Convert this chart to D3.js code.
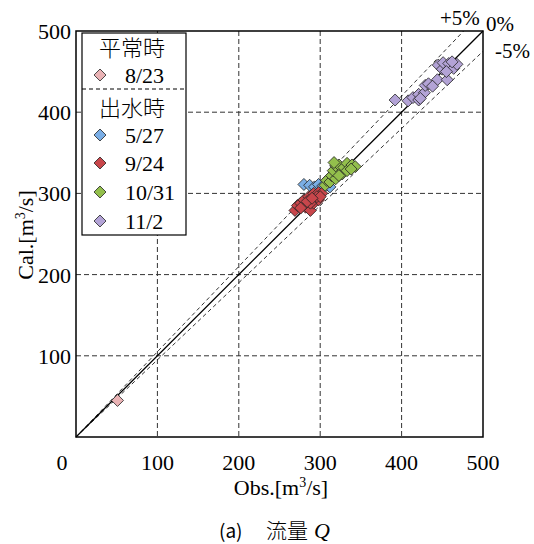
<!DOCTYPE html>
<html>
<head>
<meta charset="utf-8">
<script src="https://cdn.jsdelivr.net/npm/d3@7"></script>
<style>
  body { margin: 0; background: #fff; }
  .serif { font-family: 'Liberation Serif', 'DejaVu Serif', serif; }
</style>
</head>
<body>
<svg id="chart" width="534" height="544"></svg>
<script>
// observed vs calculated discharge [m3/s]
var obs823 = [51];
var cal823 = [45];

var obs527 = [280, 287, 293, 298, 303, 308, 312];
var cal527 = [311, 310, 308, 311, 309, 310, 308];

var obs924 = [269, 272, 276, 280, 286, 292, 298, 302, 282, 288, 292, 298, 296, 288, 276, 284, 300, 290];
var cal924 = [279, 285, 288, 292, 296, 300, 301, 300, 283, 279, 288, 292, 296, 288, 282, 290, 296, 294];

var obs1031 = [306, 308, 312, 314, 319, 316, 319, 323, 327, 323, 329, 333, 333, 339, 343, 338, 317];
var cal1031 = [310, 316, 314, 322, 318, 328, 334, 335, 324, 322, 332, 337, 328, 335, 333, 330, 338];

var obs112 = [392, 408, 414, 421, 421, 428, 429, 433, 444, 456, 445, 450, 451, 458, 464, 468, 423, 438, 455, 462];
var cal112 = [415, 414, 418, 415, 422, 424, 433, 435, 440, 440, 458, 453, 461, 460, 454, 459, 417, 432, 450, 462];

var ticks = [100, 200, 300, 400, 500];
var bands = [1.05, 1.0, 0.95];   // +5%, 0%, -5%

var series = [
  {label: '8/23',  color: '#eab3b5', x: obs823,  y: cal823},
  {label: '5/27',  color: '#7aaee6', x: obs527,  y: cal527},
  {label: '9/24',  color: '#c8464b', x: obs924,  y: cal924},
  {label: '10/31', color: '#93bf4c', x: obs1031, y: cal1031},
  {label: '11/2',  color: '#b3a3d6', x: obs112,  y: cal112}
];

var JP = "'Noto Sans CJK JP', sans-serif";

var svg = d3.select('#chart');
var m = {left: 76, top: 31, right: 483, bottom: 437};

var x = d3.scaleLinear().domain([0, 500]).range([m.left, m.right]);
var y = d3.scaleLinear().domain([0, 500]).range([m.bottom, m.top]);

var diamond = function(r) {
  return 'M0,' + (-r) + 'L' + r + ',0L0,' + r + 'L' + (-r) + ',0Z';
};

// grid
var grid = svg.append('g');
grid.selectAll('.gx').data(ticks.slice(0, 4)).enter().append('line')
  .attr('x1', d => x(d)).attr('x2', d => x(d))
  .attr('y1', m.top).attr('y2', m.bottom)
  .attr('stroke', '#333').attr('stroke-width', 1).attr('stroke-dasharray', '5,3');
grid.selectAll('.gy').data(ticks.slice(0, 4)).enter().append('line')
  .attr('y1', d => y(d)).attr('y2', d => y(d))
  .attr('x1', m.left).attr('x2', m.right)
  .attr('stroke', '#333').attr('stroke-width', 1).attr('stroke-dasharray', '5,3');

// +-5% and 1:1 lines
svg.selectAll('.band').data(bands).enter().append('line')
  .attr('x1', x(0)).attr('y1', y(0))
  .attr('x2', d => x(Math.min(500, 500 / d)))
  .attr('y2', d => y(Math.min(500, 500 / d) * d))
  .attr('stroke', '#000')
  .attr('stroke-width', d => d === 1 ? 1.3 : 0.8)
  .attr('stroke-dasharray', d => d === 1 ? null : '4,3');

// points
series.forEach(function(s) {
  svg.append('g').selectAll('path').data(s.x).enter().append('path')
    .attr('d', diamond(6))
    .attr('transform', (d, i) => 'translate(' + x(d) + ',' + y(s.y[i]) + ')')
    .attr('fill', s.color).attr('stroke', '#222').attr('stroke-width', 0.8);
});

// frame
svg.append('rect')
  .attr('x', m.left).attr('y', m.top)
  .attr('width', m.right - m.left).attr('height', m.bottom - m.top)
  .attr('fill', 'none').attr('stroke', '#000').attr('stroke-width', 1.5);

// tick labels
svg.selectAll('.ty').data(ticks).enter().append('text').attr('class', 'serif')
  .attr('x', m.left - 5).attr('y', d => y(d) + 8)
  .attr('text-anchor', 'end').attr('font-size', 22)
  .text(d => d);
svg.selectAll('.tx').data(ticks).enter().append('text').attr('class', 'serif')
  .attr('x', d => x(d)).attr('y', 470)
  .attr('text-anchor', 'middle').attr('font-size', 22)
  .text(d => d);
svg.append('text').attr('class', 'serif').attr('x', 62).attr('y', 470)
  .attr('text-anchor', 'middle').attr('font-size', 22).text('0');

// axis titles
var xt = svg.append('text').attr('class', 'serif').attr('x', 281).attr('y', 495)
  .attr('text-anchor', 'middle').attr('font-size', 22);
xt.append('tspan').text('Obs.[m');
xt.append('tspan').attr('font-size', 14).attr('dy', -8).text('3');
xt.append('tspan').attr('dy', 8).text('/s]');

var yt = svg.append('text').attr('class', 'serif').attr('transform', 'translate(33,235) rotate(-90)')
  .attr('text-anchor', 'middle').attr('font-size', 22);
yt.append('tspan').text('Cal.[m');
yt.append('tspan').attr('font-size', 14).attr('dy', -8).text('3');
yt.append('tspan').attr('dy', 8).text('/s]');

// percentage labels
var pct = svg.append('g').attr('class', 'serif').attr('font-size', 21);
pct.append('text').attr('x', 440).attr('y', 25).text('+5%');
pct.append('text').attr('x', 486).attr('y', 31).text('0%');
pct.append('text').attr('x', 495).attr('y', 58).text('-5%');

// legend
var lg = svg.append('g');
lg.append('rect').attr('x', 82).attr('y', 33).attr('width', 104).attr('height', 202)
  .attr('fill', '#fff').attr('stroke', '#000').attr('stroke-width', 1.2);
lg.append('line').attr('x1', 82).attr('x2', 186).attr('y1', 89).attr('y2', 89)
  .attr('stroke', '#000').attr('stroke-width', 1).attr('stroke-dasharray', '4,3');
lg.append('text').attr('x', 132).attr('y', 56).attr('text-anchor', 'middle')
  .attr('font-size', 22).attr('font-family', JP).attr('font-weight', 300).text('平常時');
lg.append('text').attr('x', 132).attr('y', 116).attr('text-anchor', 'middle')
  .attr('font-size', 22).attr('font-family', JP).attr('font-weight', 300).text('出水時');

var legendY = [75, 135, 163, 192, 221];
series.forEach(function(s, i) {
  lg.append('path').attr('d', diamond(6))
    .attr('transform', 'translate(100,' + legendY[i] + ')')
    .attr('fill', s.color).attr('stroke', '#222').attr('stroke-width', 0.8);
  lg.append('text').attr('class', 'serif').attr('x', 125).attr('y', legendY[i] + 8)
    .attr('font-size', 22).text(s.label);
});

// caption
var cap = svg.append('text').attr('x', 219).attr('y', 538).attr('font-size', 21);
cap.append('tspan').attr('font-family', JP).attr('font-size', 19).text('(a)');
cap.append('tspan').attr('x', 266).attr('font-family', JP).attr('font-weight', 300)
  .attr('font-size', 21).text('流量');
cap.append('tspan').attr('x', 314).attr('class', 'serif')
  .attr('font-style', 'italic').attr('font-size', 22).text('Q');
</script>
</body>
</html>
